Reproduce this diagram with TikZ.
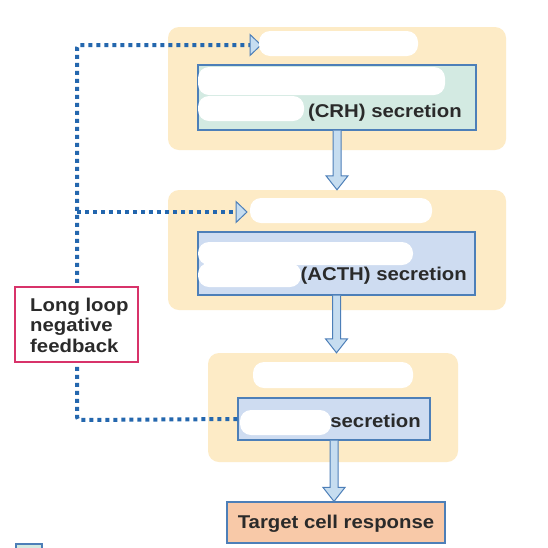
\documentclass[tikz,border=0pt]{standalone}
\usepackage{fontspec}
\setmainfont{Liberation Sans}[FakeStretch=1.1]
\usetikzlibrary{arrows.meta,calc}
\definecolor{panelY}{HTML}{FDEBC6}
\definecolor{boxG}{HTML}{D3EAE2}
\definecolor{boxB}{HTML}{CEDCF1}
\definecolor{boxO}{HTML}{F8C9A8}
\definecolor{edgeB}{HTML}{4D7FB8}
\definecolor{arrF}{HTML}{C6DDF0}
\definecolor{dotB}{HTML}{2467AE}
\definecolor{fbR}{HTML}{D8336A}
\definecolor{txt}{HTML}{2A2A2A}
\tikzset{
  panel/.style={fill=panelY, draw=none, rounded corners=11pt, inner sep=0pt},
  gbox/.style={fill=boxG, draw=edgeB, line width=1.2pt, inner sep=0pt},
  bbox/.style={fill=boxB, draw=edgeB, line width=1.2pt, inner sep=0pt},
  obox/.style={fill=boxO, draw=edgeB, line width=1.2pt, inner sep=0pt},
  blob/.style={fill=white, draw=none, rounded corners=11pt},
  lbl/.style={font=\fontsize{18.5}{21}\selectfont\bfseries, text=txt, inner sep=0pt},
  barrowst/.style={fill=arrF, draw=edgeB, line width=1pt, line join=miter},
  fbline/.style={draw=dotB, line width=4pt, dash pattern=on 4pt off 4pt, rounded corners=3pt},
  fbtipst/.style={fill=arrF, draw=edgeB, line width=1pt, line join=miter},
  fbbox/.style={draw=fbR, fill=white, line width=1.5pt, inner sep=0pt}
}
\newcommand\blockarrow[2]{%
  \draw[barrowst] let \p1=(#1), \p2=(#2) in
    (\x1-4pt,\y1) -- (\x1-4pt,\y2+14pt) -- (\x1-11pt,\y2+14pt) -- (\x1,\y2)
    -- (\x1+11pt,\y2+14pt) -- (\x1+4pt,\y2+14pt) -- (\x1+4pt,\y1);}
\newcommand\fbtip[1]{%
  \draw[fbtipst] (#1) -- ++(-11,-10.5) -- ++(0,21) -- cycle;}
\begin{document}
\begin{tikzpicture}[x=1pt,y=-1pt]
\useasboundingbox (0,0) rectangle (548,547);
\clip (0,0) rectangle (548,547);
\fill[white] (0,0) rectangle (548,547);

% panels
\node[panel, minimum width=338pt, minimum height=123pt] (p1) at (337,88.5) {};
\node[panel, minimum width=338pt, minimum height=120pt] (p2) at (337,250) {};
\node[panel, minimum width=250pt, minimum height=109pt] (p3) at (333,407.5) {};

% inner boxes
\node[gbox, minimum width=278pt, minimum height=65pt] (b1) at (337,97.5) {};
\node[bbox, minimum width=277pt, minimum height=63pt] (b2) at (336.5,263.5) {};
\node[bbox, minimum width=192pt, minimum height=42pt] (b3) at (334,419) {};
\node[obox, minimum width=218pt, minimum height=41pt] (b4) at (336,522.5) {};

% feedback dotted lines
\coordinate (c1) at (77,45);
\coordinate (c2) at (77,212);
\coordinate (c3) at (77,420);
\coordinate (t1) at (261,45);
\coordinate (t2) at (247,212);
\coordinate (e1) at (250,45);
\coordinate (e2) at (236,212);
\draw[fbline] (b3.west) -- (c3) -- (c1) -- (e1);
\draw[fbline] (c2) -- (e2);
\fbtip{t1}
\fbtip{t2}

% block arrows
\blockarrow{b1.south}{p2.north}
\blockarrow{b2.south}{p3.north}
\blockarrow{b3.south}{b4.north}

% white blobs (masked text)
\fill[blob] (259,31) rectangle (418,56);
\fill[blob] (198,67) rectangle (445,95);
\fill[blob] (198,96) rectangle (304,121);
\fill[blob] (250,198) rectangle (432,223);
\fill[blob] (198,242) rectangle (413,265);
\fill[blob] (198,263) rectangle (301,287);
\fill[blob] (253,362) rectangle (413,388);
\fill[blob] (240,410) rectangle (331,435);

% labels
\node[lbl, anchor=base east] (l1) at (462,117) {(CRH) secretion};
\node[lbl, anchor=base east] (l2) at (467,280) {(ACTH) secretion};
\node[lbl, anchor=base east] (l3) at (421,427) {secretion};
\node[lbl, anchor=base] (l4) at (336,528) {Target cell response};

% feedback box
\node[fbbox, minimum width=123pt, minimum height=75pt] (fb) at (76.5,324.5) {};
\node[lbl, anchor=base west] (fbt1) at (30,311) {Long loop};
\node[lbl, anchor=base west] (fbt2) at (30,331.5) {negative};
\node[lbl, anchor=base west] (fbt3) at (30,352) {feedback};

% legend (cut off)
\draw[fill=boxG, draw=edgeB, line width=1.2pt] (16,544) rectangle (42,552);
\end{tikzpicture}
\end{document}
